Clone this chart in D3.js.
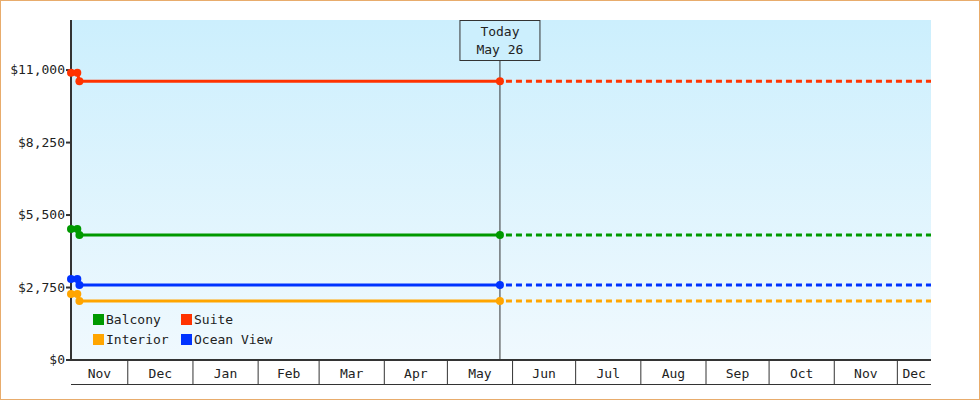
<!DOCTYPE html><html><head><meta charset="utf-8"><script src="https://cdn.jsdelivr.net/npm/d3@7"></script>
<style>body{margin:0}svg{display:block}text{font-family:"DejaVu Sans Mono",monospace;font-size:13px;fill:#222}</style></head><body>
<svg id="c" width="980" height="400"></svg>
<script>
const seriesNames=["Balcony","Suite","Interior","Ocean View"];
const colors=["#009900","#ff3300","#ffa500","#0033ff"];
const dates=["2023-11-04","2023-11-07","2023-11-08","2024-05-26"];
const balcony=[4970,4970,4740,4740];
const suite=[10900,10900,10580,10580];
const interior=[2500,2500,2240,2240];
const oceanView=[3070,3070,2845,2845];
const yTicks=[0,2750,5500,8250,11000];
const endDate="2024-12-17";
const values=[balcony,suite,interior,oceanView];
const P=d3.timeParse("%Y-%m-%d");
const svg=d3.select("#c");
svg.append("rect").attr("x",0.5).attr("y",0.5).attr("width",979).attr("height",399).attr("fill","#fff").attr("stroke","#e8ac6c");
const L=71,R=931,T=20,B=360;
const x=d3.scaleTime().domain([P(dates[0]),P(endDate)]).range([L,R]);
const y=d3.scaleLinear().domain([0,12900]).range([B,T]);
const g=svg.append("defs").append("linearGradient").attr("id","bg").attr("x1",0).attr("y1",0).attr("x2",0).attr("y2",1);
g.append("stop").attr("offset",0).attr("stop-color","#cceffd");g.append("stop").attr("offset",1).attr("stop-color","#f0f9fe");
svg.append("rect").attr("x",L).attr("y",T).attr("width",R-L).attr("height",B-T).attr("fill","url(#bg)");
// month axis
const months=d3.timeMonth.range(d3.timeMonth.floor(x.domain()[0]),x.domain()[1]);
months.forEach(m=>{const a=Math.max(x(m),L),b=Math.min(x(d3.timeMonth.offset(m,1)),R);
 if(x(m)>L) svg.append("line").attr("x1",x(m)).attr("x2",x(m)).attr("y1",B).attr("y2",384).attr("stroke","#333");
 svg.append("text").attr("x",(a+b)/2).attr("y",378).attr("text-anchor","middle").text(d3.timeFormat("%b")(m));});
svg.append("line").attr("x1",L).attr("x2",R).attr("y1",384.5).attr("y2",384.5).attr("stroke","#333");
svg.append("line").attr("x1",L).attr("x2",R).attr("y1",B).attr("y2",B).attr("stroke","#333").attr("stroke-width",2);
// y axis
svg.append("line").attr("x1",L).attr("x2",L).attr("y1",T).attr("y2",B+1).attr("stroke","#333").attr("stroke-width",2);
yTicks.forEach(t=>{svg.append("line").attr("x1",L-5).attr("x2",L).attr("y1",y(t)).attr("y2",y(t)).attr("stroke","#333").attr("stroke-width",2);
 svg.append("text").attr("x",L-6).attr("y",y(t)+4).attr("text-anchor","end").text(d3.format("$,")(t));});
// today
const today=P(dates[3]);
svg.append("line").attr("x1",x(today)).attr("x2",x(today)).attr("y1",60).attr("y2",B).attr("stroke","#333");
svg.append("rect").attr("x",x(today)-40).attr("y",20.5).attr("width",80).attr("height",40).attr("fill","#cceffd").attr("stroke","#333");
svg.append("text").attr("x",x(today)).attr("y",36).attr("text-anchor","middle").text("Today");
svg.append("text").attr("x",x(today)).attr("y",54).attr("text-anchor","middle").text("May 26");
const line=d3.line().x(d=>x(d[0])).y(d=>y(d[1]));
values.forEach((v,i)=>{const pts=dates.map((d,j)=>[P(d),v[j]]);
 svg.append("path").attr("d",line(pts)).attr("fill","none").attr("stroke",colors[i]).attr("stroke-width",3);
 svg.append("path").attr("d",line([pts[3],[P(endDate),v[3]]])).attr("fill","none").attr("stroke",colors[i]).attr("stroke-width",3).attr("stroke-dasharray","6,4").attr("stroke-dashoffset",-6);
 pts.forEach(p=>svg.append("circle").attr("cx",x(p[0])).attr("cy",y(p[1])).attr("r",4).attr("fill",colors[i]));});
// legend
seriesNames.forEach((n,i)=>{const lx=93+(i%2)*88,ly=314+Math.floor(i/2)*20;
 svg.append("rect").attr("x",lx).attr("y",ly).attr("width",11).attr("height",11).attr("fill",colors[i]);
 svg.append("text").attr("x",lx+13).attr("y",ly+10).text(n);});
</script></body></html>
